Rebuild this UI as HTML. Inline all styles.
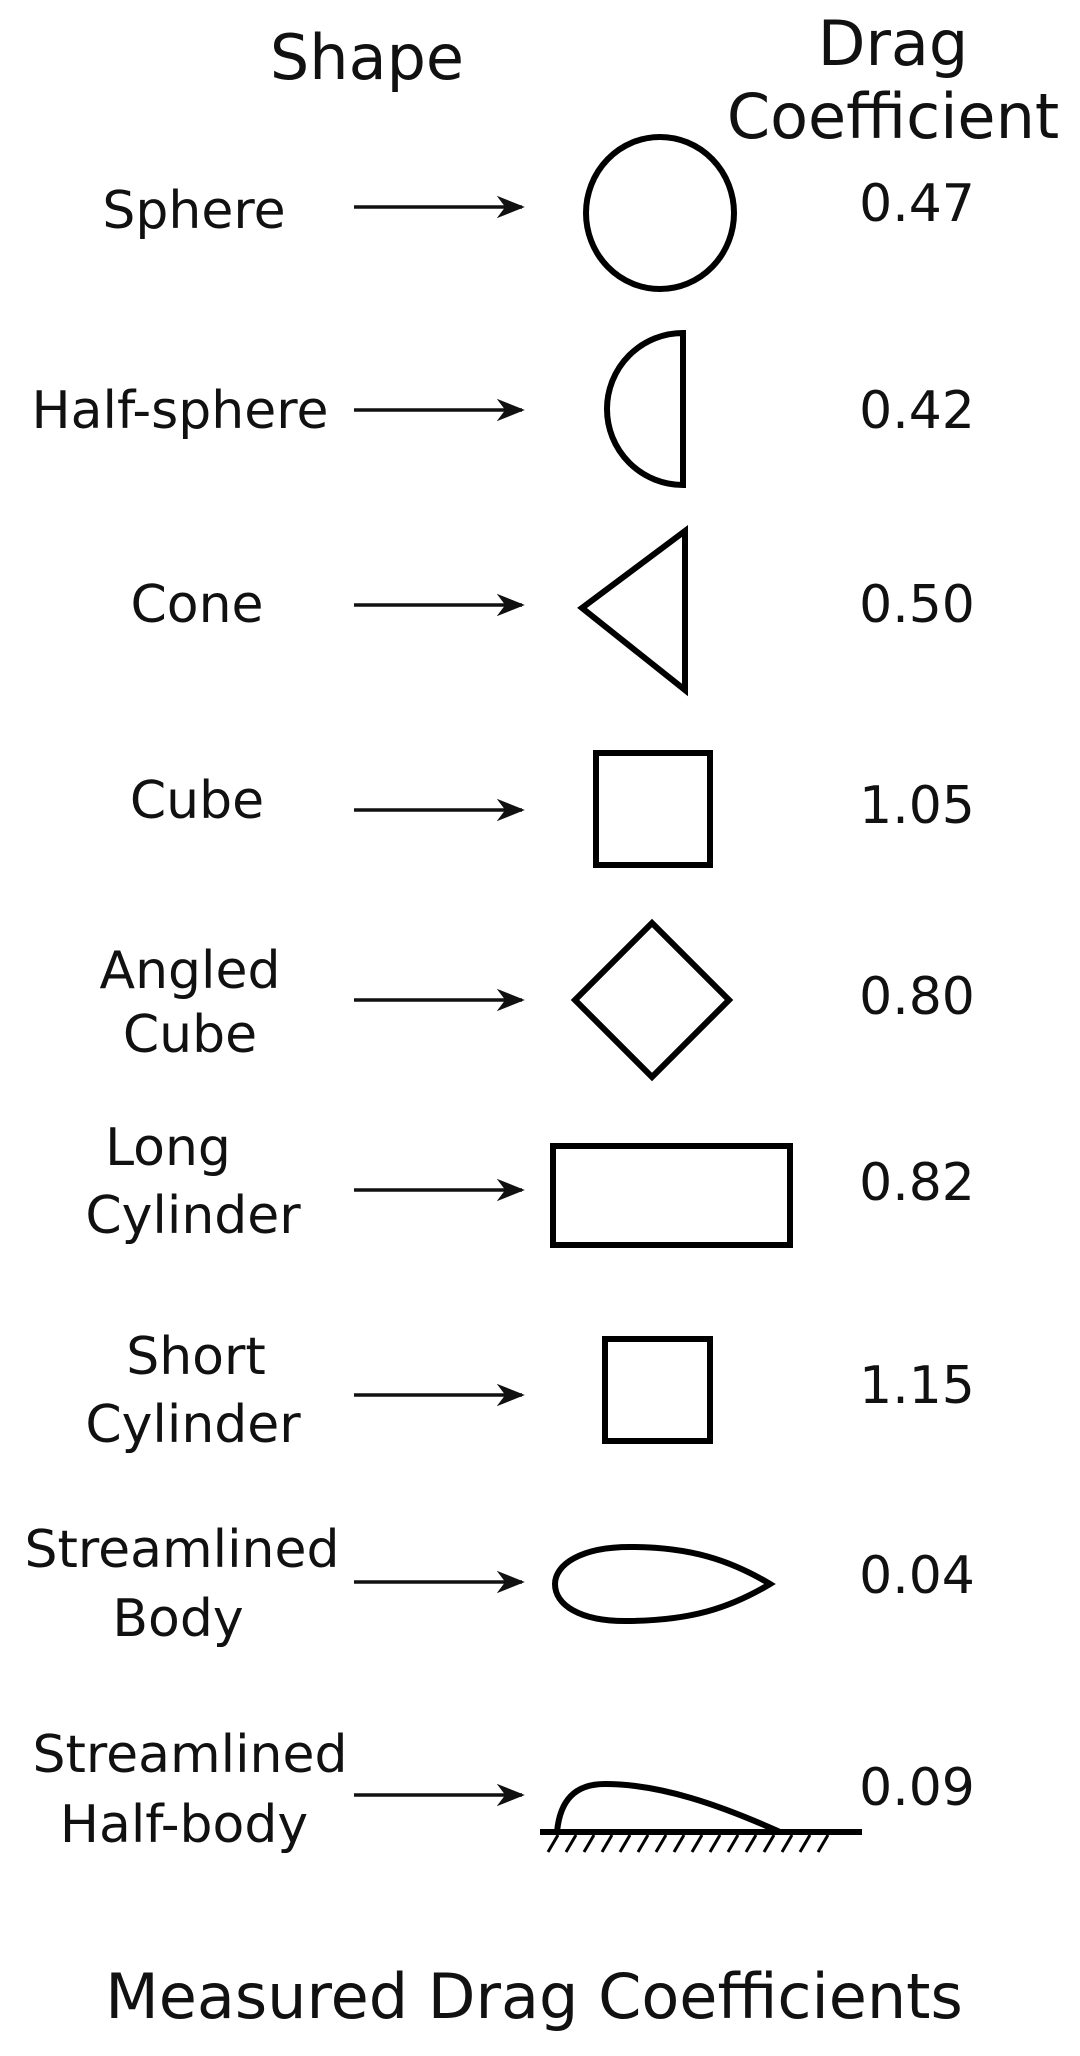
<!DOCTYPE html>
<html><head><meta charset="utf-8"><style>
html,body{margin:0;padding:0;background:#fff;}
svg{display:block;}
text{font-family:"DejaVu Sans","Liberation Sans",sans-serif;fill:#111;}
</style></head><body>
<svg width="1080" height="2056" viewBox="0 0 1080 2056" xmlns="http://www.w3.org/2000/svg">
<defs>
<marker id="ah" viewBox="0 0 10 10" refX="9" refY="5" markerWidth="8" markerHeight="8" orient="auto" markerUnits="strokeWidth">
<path d="M0,1 L10,5 L0,9 L3,5 Z" fill="#111"/>
</marker>
</defs>
<g font-size="62" text-anchor="middle">
<text x="367" y="79">Shape</text>
<text x="893" y="65">Drag</text>
<text x="893" y="138">Coefficient</text>
<text x="534" y="2018">Measured Drag Coefficients</text>
</g>
<g font-size="52" text-anchor="middle">
<text x="194" y="228">Sphere</text>
<text x="180" y="428">Half-sphere</text>
<text x="197" y="622">Cone</text>
<text x="197" y="818">Cube</text>
<text x="190" y="988">Angled</text>
<text x="190" y="1052">Cube</text>
<text x="168" y="1165">Long</text>
<text x="193" y="1233">Cylinder</text>
<text x="196" y="1374">Short</text>
<text x="193" y="1442">Cylinder</text>
<text x="182" y="1567">Streamlined</text>
<text x="178" y="1636">Body</text>
<text x="190" y="1772">Streamlined</text>
<text x="184" y="1842">Half-body</text>
</g>
<g font-size="52" text-anchor="middle">
<text x="917" y="221">0.47</text>
<text x="917" y="428">0.42</text>
<text x="917" y="622">0.50</text>
<text x="917" y="823">1.05</text>
<text x="917" y="1014">0.80</text>
<text x="917" y="1200">0.82</text>
<text x="917" y="1403">1.15</text>
<text x="917" y="1593">0.04</text>
<text x="917" y="1805">0.09</text>
</g>
<g stroke="#111" stroke-width="3.5" fill="none" marker-end="url(#ah)">
<line x1="354" y1="207" x2="522" y2="207"/>
<line x1="354" y1="410" x2="522" y2="410"/>
<line x1="354" y1="605" x2="522" y2="605"/>
<line x1="354" y1="810" x2="522" y2="810"/>
<line x1="354" y1="1000" x2="522" y2="1000"/>
<line x1="354" y1="1190" x2="522" y2="1190"/>
<line x1="354" y1="1395" x2="522" y2="1395"/>
<line x1="354" y1="1582" x2="522" y2="1582"/>
<line x1="354" y1="1795" x2="522" y2="1795"/>
</g>
<g stroke="#000" stroke-width="6" fill="none" stroke-linejoin="miter">
<ellipse cx="660" cy="213" rx="74" ry="76"/>
<path d="M683,333 L683,485 A76,76 0 0 1 683,333 Z"/>
<path d="M685,531 L685,690 L582,608 Z"/>
<rect x="596" y="753" width="114" height="112"/>
<path d="M652,923 L729,1000 L652,1077 L575,1000 Z"/>
<rect x="553" y="1146" width="237" height="99"/>
<rect x="605" y="1339" width="105" height="102"/>
<path d="M770,1584 C730,1560 690,1547 630,1547 C580,1547 555,1565 555,1584 C555,1605 580,1621 625,1621 C690,1621 730,1608 770,1584 Z"/>
<path d="M557,1832 C560,1800 575,1784 605,1784 C660,1784 720,1805 780,1832"/>
<line x1="540" y1="1832" x2="862" y2="1832"/>
</g>
<g stroke="#000" stroke-width="3">
<line x1="558" y1="1835" x2="548" y2="1852"/>
<line x1="576" y1="1835" x2="566" y2="1852"/>
<line x1="594" y1="1835" x2="584" y2="1852"/>
<line x1="612" y1="1835" x2="602" y2="1852"/>
<line x1="630" y1="1835" x2="620" y2="1852"/>
<line x1="648" y1="1835" x2="638" y2="1852"/>
<line x1="666" y1="1835" x2="656" y2="1852"/>
<line x1="684" y1="1835" x2="674" y2="1852"/>
<line x1="702" y1="1835" x2="692" y2="1852"/>
<line x1="720" y1="1835" x2="710" y2="1852"/>
<line x1="738" y1="1835" x2="728" y2="1852"/>
<line x1="756" y1="1835" x2="746" y2="1852"/>
<line x1="774" y1="1835" x2="764" y2="1852"/>
<line x1="792" y1="1835" x2="782" y2="1852"/>
<line x1="810" y1="1835" x2="800" y2="1852"/>
<line x1="828" y1="1835" x2="818" y2="1852"/>
</g>
</svg>
</body></html>
